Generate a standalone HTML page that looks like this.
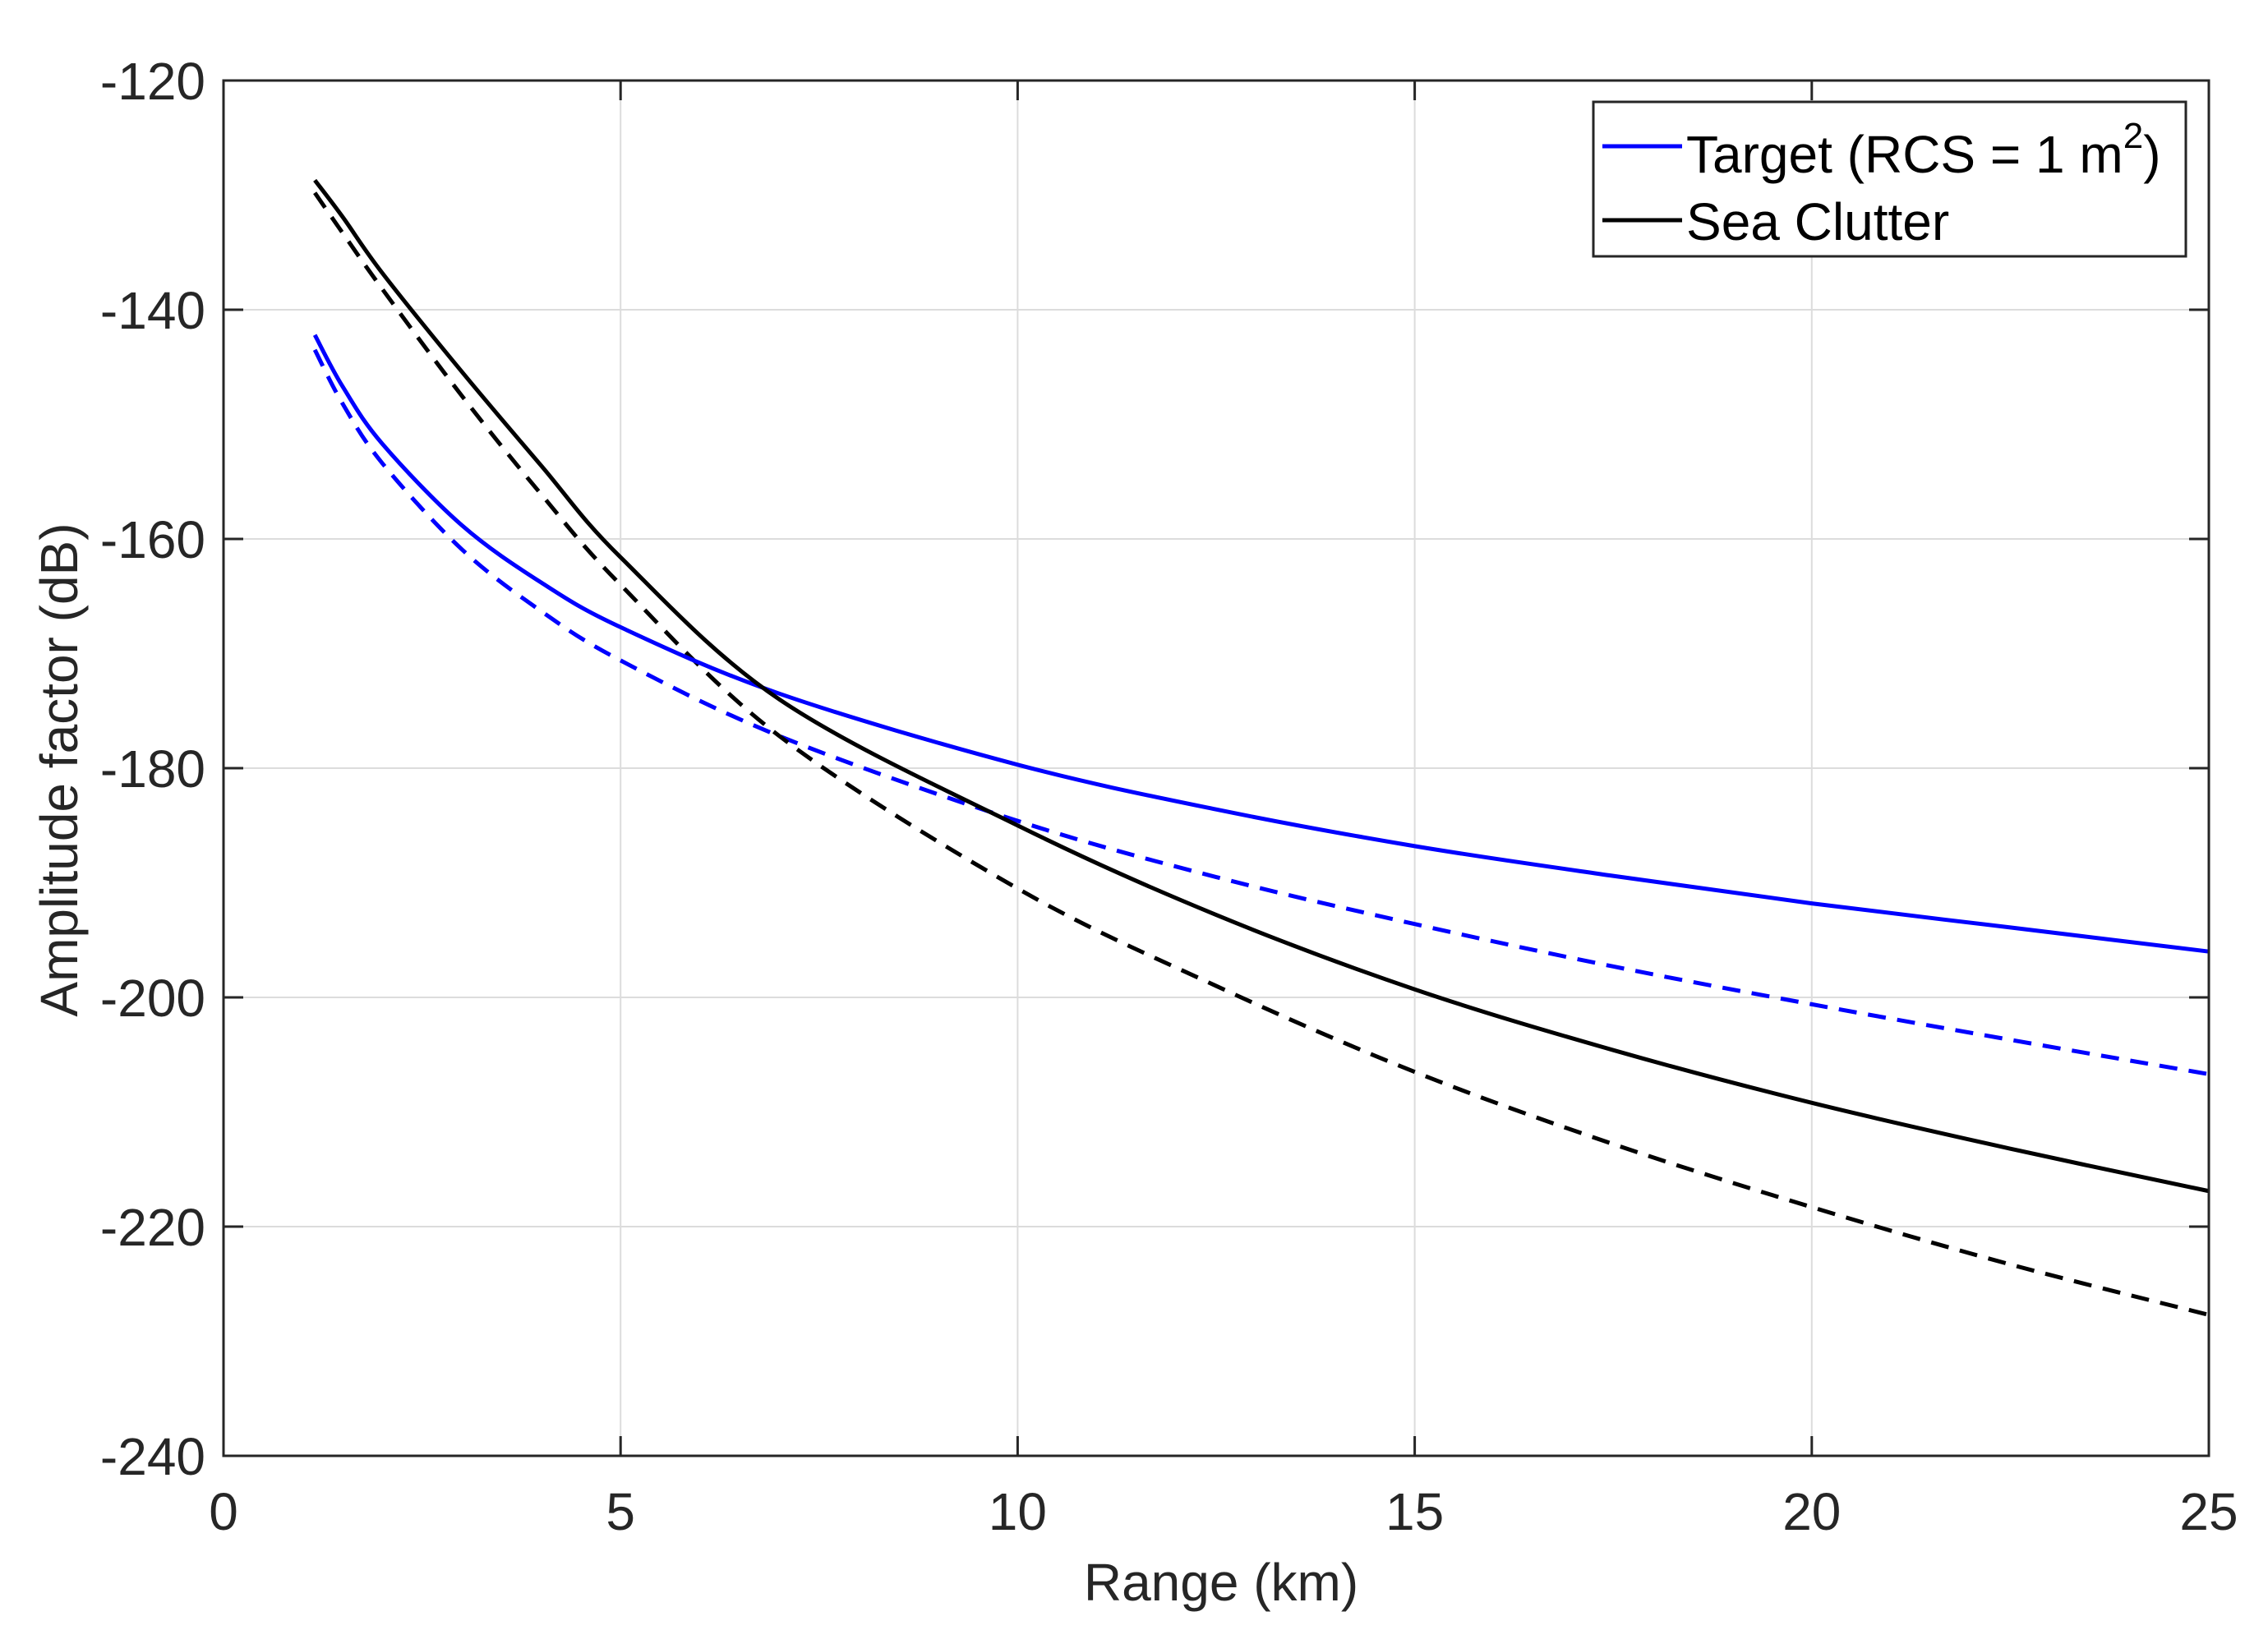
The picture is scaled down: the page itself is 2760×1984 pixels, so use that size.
<!DOCTYPE html>
<html><head><meta charset="utf-8"><style>
html,body{margin:0;padding:0;background:#fff;}
svg{display:block;font-family:"Liberation Sans",Arial,sans-serif;}
</style></head><body>
<svg id="chart" width="2760" height="1984" viewBox="0 0 2760 1984">
<g id="grid"></g>
<g id="series"></g>
<rect x="272" y="98" width="2416" height="1674" fill="none" stroke="#262626" stroke-width="3"/>
<g id="ticks"></g>
<text x="1486" y="1948" font-size="64" fill="#262626" text-anchor="middle">Range (km)</text>
<text transform="translate(94,937) rotate(-90)" font-size="64" fill="#262626" text-anchor="middle">Amplitude factor (dB)</text>
<g>
<rect x="1939" y="124" width="721" height="188" fill="#fff" stroke="#262626" stroke-width="3"/>
<line x1="1950" y1="178" x2="2047" y2="178" stroke="#0000ff" stroke-width="5"/>
<text x="2052" y="210" font-size="64" fill="#000">Target (RCS = 1 m<tspan dy="-30" font-size="44">2</tspan><tspan dy="30">)</tspan></text>
<line x1="1950" y1="268" x2="2047" y2="268" stroke="#000" stroke-width="5"/>
<text x="2052" y="292" font-size="64" fill="#000">Sea Clutter</text>
</g>
</svg>
<script>
const rangeKm = [1.15, 1.5, 2, 3, 4, 5, 7, 10, 12.5, 15, 17.5, 20, 22.5, 25];
const targetSolid = [-142.2, -146.7, -151.7, -158.8, -163.8, -167.7, -173.5, -179.7, -183.6, -186.8, -189.4, -191.8, -193.9, -196];
const targetDashed = [-143.5, -148.2, -153.4, -160.9, -166.3, -170.6, -177.2, -184.6, -189.5, -193.6, -197.3, -200.6, -203.7, -206.7];
const clutterSolid = [-128.7, -131.9, -136.8, -145.4, -153.6, -161.6, -174.0, -185, -192.8, -199.3, -204.6, -209.2, -213.2, -216.9];
const clutterDashed = [-129.8, -133.3, -138.2, -147.5, -156.1, -164, -177.2, -190.5, -199, -206.5, -212.8, -218.3, -223.3, -227.7];
const xTicks = [0, 5, 10, 15, 20, 25];
const yTicks = [-120, -140, -160, -180, -200, -220, -240];

const L=272,R=2688,T=98,B=1772;
const xs = v => L + (v-0)/(25-0)*(R-L);
const ys = v => T + (-120-v)/(120)*(B-T);
const NS='http://www.w3.org/2000/svg';
const grid=document.getElementById('grid'), ticks=document.getElementById('ticks'), series=document.getElementById('series');
function mk(tag,attrs,parent){const e=document.createElementNS(NS,tag);for(const k in attrs)e.setAttribute(k,attrs[k]);parent.appendChild(e);return e;}
xTicks.forEach(v=>{
  const x=xs(v);
  const g=mk('line',{x1:x,y1:T,x2:x,y2:B,stroke:'#dcdcdc','stroke-width':2},grid);
  
  
  const t1=mk('line',{x1:x,y1:B,x2:x,y2:B-24,stroke:'#262626','stroke-width':3},ticks);
  
  
  const t2=mk('line',{x1:x,y1:T,x2:x,y2:T+24,stroke:'#262626','stroke-width':3},ticks);
  
  
  const lb=mk('text',{x:x,y:B+90,'font-size':64,fill:'#262626','text-anchor':'middle'},ticks);
  lb.textContent=v;
  
  
});
yTicks.forEach(v=>{
  const y=ys(v);
  const g=mk('line',{x1:L,y1:y,x2:R,y2:y,stroke:'#dcdcdc','stroke-width':2},grid);
  
  
  const t1=mk('line',{x1:L,y1:y,x2:L+24,y2:y,stroke:'#262626','stroke-width':3},ticks);
  
  
  const t2=mk('line',{x1:R,y1:y,x2:R-24,y2:y,stroke:'#262626','stroke-width':3},ticks);
  
  
  const lb=mk('text',{x:L-22,y:y+23,'font-size':64,fill:'#262626','text-anchor':'end'},ticks);
  lb.textContent=v;
  
  
});
function pathD(vals){
  const p=rangeKm.map((k,i)=>[xs(k),ys(vals[i])]);
  let d='M'+p[0][0]+','+p[0][1];
  for(let i=0;i<p.length-1;i++){
    const p0=p[Math.max(0,i-1)],p1=p[i],p2=p[i+1],p3=p[Math.min(p.length-1,i+2)];
    const c1=[p1[0]+(p2[0]-p0[0])/6,p1[1]+(p2[1]-p0[1])/6];
    const c2=[p2[0]-(p3[0]-p1[0])/6,p2[1]-(p3[1]-p1[1])/6];
    d+=' C'+c1+' '+c2+' '+p2;
  }
  return d;
}
function addSeries(vals,color,dash,name){
  const a={d:pathD(vals),fill:'none',stroke:color,'stroke-width':5};
  if(dash)a['stroke-dasharray']='22,14';
  const e=mk('path',a,series);
  
  
}
addSeries(targetDashed,'#0000ff',true,'target-dashed-line');
addSeries(clutterDashed,'#000000',true,'clutter-dashed-line');
addSeries(targetSolid,'#0000ff',false,'target-solid-line');
addSeries(clutterSolid,'#000000',false,'clutter-solid-line');
</script>
</body></html>
